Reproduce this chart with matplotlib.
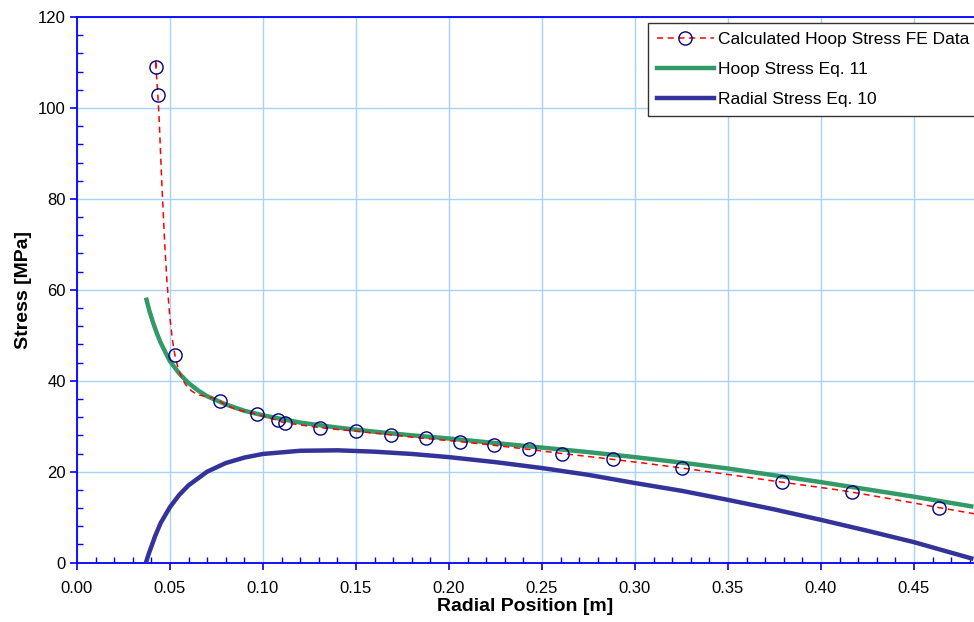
import numpy as np
import matplotlib
matplotlib.use("Agg")
import matplotlib.pyplot as plt
from matplotlib.ticker import MultipleLocator, FormatStrFormatter
from matplotlib.path import Path
from matplotlib.patches import PathPatch
from matplotlib.lines import Line2D

plt.rcParams['font.family'] = ['Liberation Sans', 'DejaVu Sans']

# FE hoop stress data (radius [m], stress [MPa]); last point lies past the axis edge
fe_r = [0.0425, 0.0435, 0.0527, 0.0769, 0.0968, 0.1081, 0.1119, 0.1306, 0.1500,
        0.1688, 0.1876, 0.2059, 0.2242, 0.2430, 0.2608, 0.2882, 0.3253, 0.3790,
        0.4167, 0.4635, 0.5000]
fe_s = [109.0, 102.8, 45.6, 35.5, 32.6, 31.3, 30.8, 29.7, 28.9,
        28.1, 27.3, 26.6, 25.8, 24.9, 24.0, 22.7, 20.8, 17.7,
        15.5, 12.1, 9.5]

# hoop stress Eq. 11
hoop_r = [0.0371, 0.039, 0.041, 0.043, 0.045, 0.048, 0.050, 0.055, 0.060, 0.065,
          0.070, 0.080, 0.090, 0.100, 0.120, 0.140, 0.160, 0.180, 0.200, 0.225,
          0.250, 0.275, 0.300, 0.325, 0.350, 0.375, 0.400, 0.425, 0.450, 0.482]
hoop_s = [58.3, 55.3, 52.7, 50.4, 48.4, 45.9, 44.3, 41.6, 39.5, 37.9,
          36.6, 34.8, 33.4, 32.4, 30.8, 29.7, 28.8, 28.0, 27.3, 26.3,
          25.3, 24.3, 23.2, 22.0, 20.7, 19.2, 17.7, 16.1, 14.5, 12.3]

# radial stress Eq. 10
rad_r = [0.0371, 0.038, 0.039, 0.040, 0.042, 0.045, 0.050, 0.055, 0.060, 0.070,
         0.080, 0.090, 0.100, 0.120, 0.140, 0.160, 0.180, 0.200, 0.225, 0.250,
         0.275, 0.300, 0.325, 0.350, 0.375, 0.400, 0.425, 0.450, 0.482]
rad_s = [0.0, 1.2, 2.4, 3.5, 5.8, 8.7, 12.2, 14.9, 17.0, 20.0,
         21.9, 23.1, 23.9, 24.6, 24.7, 24.4, 23.9, 23.2, 22.1, 20.8,
         19.3, 17.5, 15.8, 13.8, 11.7, 9.4, 7.0, 4.5, 0.8]


def smooth_path(xs, ys):
    # spreadsheet-style smoothed line: cubic Bezier segments through the points
    p = np.column_stack([xs, ys])
    n = len(p)
    verts = [p[0]]
    codes = [Path.MOVETO]
    for i in range(n - 1):
        p0 = p[i - 1] if i > 0 else p[i]
        p3 = p[i + 2] if i + 2 < n else p[i + 1]
        c1 = p[i] + (p[i + 1] - p0) / 6.0
        c2 = p[i + 1] - (p3 - p[i]) / 6.0
        verts += [c1, c2, p[i + 1]]
        codes += [Path.CURVE4] * 3
    return Path(verts, codes)


fig = plt.figure(figsize=(9.74, 6.22), dpi=100)
ax = fig.add_axes([0.079, 0.0955, 0.921, 0.877])

grid_c = '#a6d2ff'
ax.set_axisbelow(True)
ax.grid(True, which='major', color=grid_c, lw=1.0)

red = '#ff0000'
dash = (0, (4, 3))
ax.add_patch(PathPatch(smooth_path(fe_r, fe_s), fill=False, edgecolor=red,
                       lw=1.1, ls=dash, zorder=4))
ax.plot(fe_r, fe_s, ls='none', marker='o', ms=9.5, mfc='none', mec='#000080',
        mew=1.0, zorder=5)
ax.plot(hoop_r, hoop_s, color='#339966', lw=3.2, solid_capstyle='butt',
        zorder=3)
ax.plot(rad_r, rad_s, color='#333399', lw=3.2, solid_capstyle='butt',
        zorder=3)

ax.set_xlim(0, 0.4823)
ax.set_ylim(0, 120)
ax.xaxis.set_major_locator(MultipleLocator(0.05))
ax.xaxis.set_minor_locator(MultipleLocator(0.01))
ax.yaxis.set_major_locator(MultipleLocator(20))
ax.yaxis.set_minor_locator(MultipleLocator(4))
ax.xaxis.set_major_formatter(FormatStrFormatter('%.2f'))

for s in ['left', 'bottom', 'top']:
    ax.spines[s].set_color('#0000ff')
    ax.spines[s].set_linewidth(1.3)
ax.spines['right'].set_visible(False)

ax.tick_params(which='major', direction='out', length=5, width=1.2,
               color='#0000ff', labelsize=12, pad=8)
ax.tick_params(which='minor', direction='in', length=4, width=1.0,
               color='#0000ff')
ax.tick_params(axis='y', which='major', pad=3)

ax.set_xlabel('Radial Position [m]', fontsize=14, fontweight='bold', labelpad=2)
ax.set_ylabel('Stress [MPa]', fontsize=14, fontweight='bold', labelpad=4)

handles = [
    Line2D([], [], color=red, ls=dash, lw=1.1, marker='o', ms=9.5,
           mfc='none', mec='#000080', mew=1.0),
    Line2D([], [], color='#339966', lw=3.2),
    Line2D([], [], color='#333399', lw=3.2),
]
labels = ['Calculated Hoop Stress FE Data', 'Hoop Stress Eq. 11',
          'Radial Stress Eq. 10']
leg = ax.legend(handles, labels, loc='upper right',
                bbox_to_anchor=(1.004, 0.9885), borderaxespad=0,
                fontsize=12.5, frameon=True, fancybox=False, framealpha=1,
                edgecolor='#333333', handlelength=3.3, handletextpad=0.2,
                labelspacing=0.85, borderpad=0.5)
leg.get_frame().set_linewidth(1.0)

fig.savefig('out.png', dpi=100)
